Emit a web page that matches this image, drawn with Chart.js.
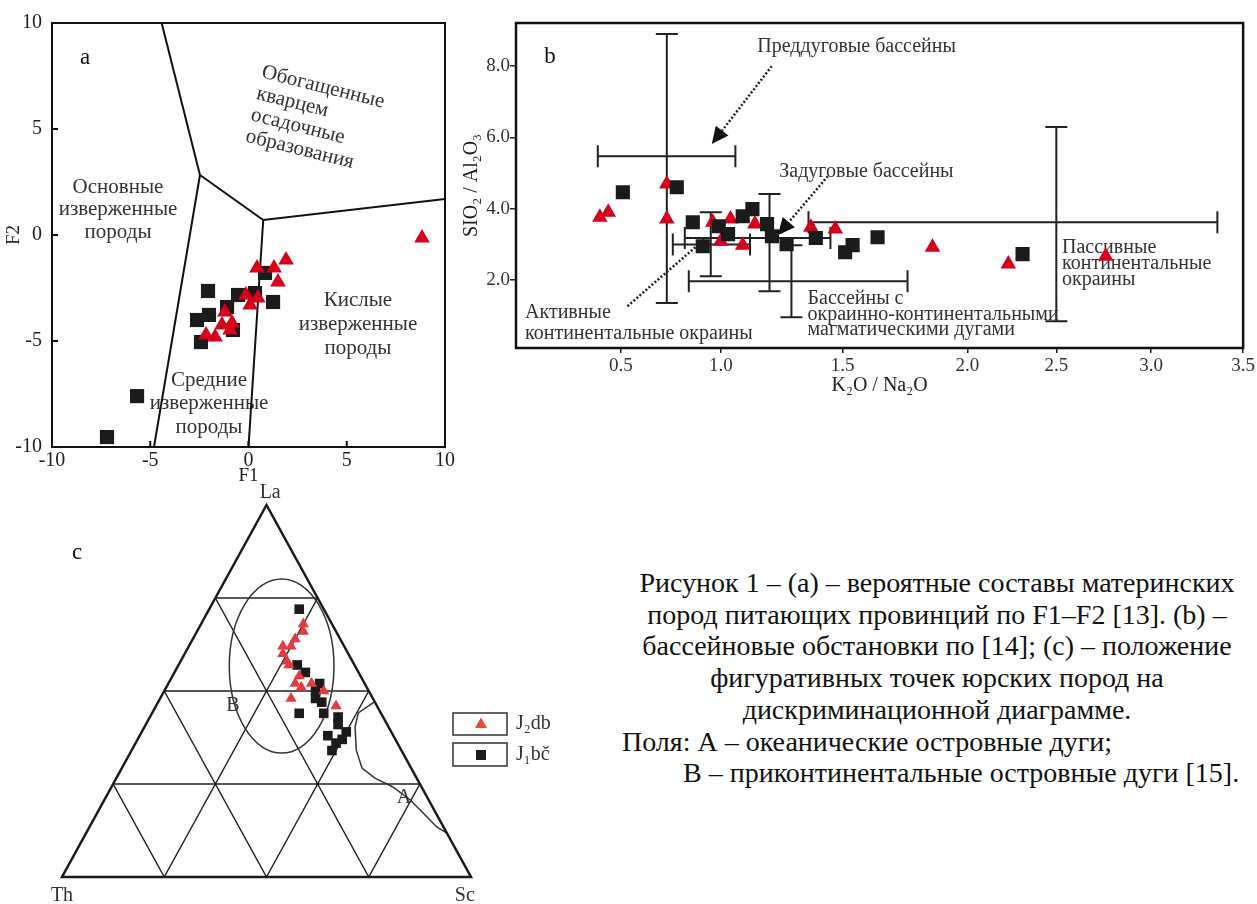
<!DOCTYPE html>
<html>
<head>
<meta charset="utf-8">
<script src="https://cdn.jsdelivr.net/npm/chart.js@4.4.1/dist/chart.umd.min.js"></script>
<style>
  html, body { margin: 0; padding: 0; background: #fff; }
  body { width: 1257px; height: 904px; position: relative; overflow: hidden;
         font-family: "Liberation Serif", "Times New Roman", serif; }
  canvas { position: absolute; }
  #caption { position: absolute; left: 620px; top: 567px; width: 634px;
             font-size: 28px; line-height: 31.7px; color: #111; white-space: nowrap; }
  #caption .c { text-align: center; }
  #caption .l { padding-left: 2px; }
  #caption .l2 { padding-left: 63px; }
</style>
</head>
<body>
<canvas id="chartA" width="460" height="490" style="left:0;top:0"></canvas>
<canvas id="chartB" width="797" height="400" style="left:460px;top:0"></canvas>
<canvas id="chartC" width="600" height="424" style="left:0;top:480px"></canvas>
<div id="caption">
  <div class="c">Рисунок 1 – (a) – вероятные составы материнских</div>
  <div class="c">пород питающих провинций по F1–F2 [13]. (b) –</div>
  <div class="c">бассейновые обстановки по [14]; (c) – положение</div>
  <div class="c">фигуративных точек юрских пород на</div>
  <div class="c">дискриминационной диаграмме.</div>
  <div class="l">Поля: А – океанические островные дуги;</div>
  <div class="l2">В – приконтинентальные островные дуги [15].</div>
</div>
<script>
// ---------- (a) F1–F2 discriminant functions ----------
const f1Bc = [-7.20, -5.67, -2.06, -2.62, -2.01, -2.42, -1.09, -0.53, -0.79, 0.84, 1.25, 0.33];
const f2Bc = [-9.53, -7.60, -2.64, -4.01, -3.77, -5.05, -3.40, -2.83, -4.48, -1.79, -3.16, -2.74];
const f1Db = [0.43, 1.30, 1.91, 1.50, -0.13, 0.48, 0.08, -1.20, -0.84, -1.35, -0.94, -2.16, -1.70, 8.83];
const f2Db = [-1.56, -1.56, -1.18, -2.22, -2.83, -2.97, -3.30, -3.63, -4.15, -4.25, -4.48, -4.72, -4.81, -0.14];
// field boundaries of the F1–F2 diagram
const boundaryF1 = [[-4.42, -2.47], [-2.47, 0.75, 10], [-2.47, -4.81], [0.75, 0.0]];
const boundaryF2 = [[10, 2.83], [2.83, 0.71, 1.70], [2.83, -10], [0.71, -10]];
const f1Ticks = [-10, -5, 0, 5, 10];
const f2Ticks = [-10, -5, 0, 5, 10];

// ---------- (b) SiO2/Al2O3 vs K2O/Na2O ----------
const k2oBc  = [0.51, 0.78, 0.86, 0.91, 0.99, 1.03, 1.09, 1.13, 1.19, 1.21, 1.27, 1.39, 1.51, 1.54, 1.64, 2.31];
const sio2Bc = [4.46, 4.60, 3.62, 2.95, 3.51, 3.29, 3.79, 3.99, 3.57, 3.23, 3.01, 3.18, 2.78, 2.98, 3.20, 2.73];
const k2oDb  = [0.40, 0.44, 0.73, 0.73, 0.96, 1.04, 1.00, 1.09, 1.14, 1.37, 1.47, 1.86, 2.23, 2.76];
const sio2Db = [3.76, 3.90, 4.69, 3.71, 3.62, 3.71, 3.09, 2.98, 3.57, 3.48, 3.43, 2.92, 2.45, 2.67];
// tectonic setting fields: mean and range (forearc, active margin, back-arc, continental arc, passive margin)
const fieldK2O     = [0.73, 0.95, 1.20, 1.29, 2.50];
const fieldK2OMin  = [0.39, 0.76, 0.82, 0.84, 1.36];
const fieldK2OMax  = [1.06, 1.12, 1.45, 1.76, 3.36];
const fieldSiO2    = [5.47, 3.00, 3.18, 1.97, 3.62];
const fieldSiO2Min = [1.36, 2.11, 1.69, 0.96, 0.85];
const fieldSiO2Max = [8.89, 3.90, 4.41, 2.98, 6.29];
const k2oTicks  = [0.5, 1.0, 1.5, 2.0, 2.5, 3.0, 3.5];
const sio2Ticks = [2, 4, 6, 8];

// ---------- (c) La–Th–Sc ternary ----------
const laBc = [0.72, 0.57, 0.55, 0.52, 0.50, 0.48, 0.47, 0.44, 0.44, 0.43, 0.41, 0.39, 0.38, 0.37, 0.36, 0.34];
const thBc = [0.06, 0.14, 0.13, 0.11, 0.13, 0.14, 0.13, 0.14, 0.20, 0.11, 0.12, 0.11, 0.16, 0.13, 0.15, 0.17];
const scBc = [0.22, 0.29, 0.32, 0.37, 0.37, 0.38, 0.40, 0.42, 0.36, 0.46, 0.47, 0.50, 0.46, 0.50, 0.49, 0.49];
const laDb = [0.68, 0.66, 0.64, 0.62, 0.62, 0.60, 0.58, 0.57, 0.54, 0.52, 0.51, 0.52, 0.50, 0.48, 0.46];
const thDb = [0.07, 0.08, 0.11, 0.13, 0.15, 0.16, 0.16, 0.16, 0.15, 0.17, 0.16, 0.13, 0.11, 0.20, 0.10];
const scDb = [0.25, 0.26, 0.25, 0.25, 0.23, 0.24, 0.26, 0.27, 0.31, 0.31, 0.33, 0.35, 0.39, 0.32, 0.44];
// field A (oceanic island arcs) boundary
const fieldALa = [0.470, 0.441, 0.403, 0.341, 0.293, 0.266, 0.242, 0.207, 0.172, 0.134, 0.118];
const fieldASc = [0.528, 0.504, 0.515, 0.549, 0.587, 0.632, 0.688, 0.748, 0.797, 0.850, 0.882];
// field B (continental island arcs) ellipse: centre (La, Sc) and half-axes
const fieldBCentre = [0.567, 0.2535];
const fieldBAxes = [0.128, 0.234];
const seriesNames = ['J\u2082db', 'J\u2081b\u010D'];

// ---------- common styling ----------
const SERIF = '"Liberation Serif", "Times New Roman", serif';
Chart.defaults.font.family = SERIF;
Chart.defaults.color = '#222';
Chart.defaults.animation = false;
Chart.defaults.responsive = false;
Chart.defaults.devicePixelRatio = 1;
Chart.defaults.events = [];
Chart.defaults.plugins.legend.display = false;
Chart.defaults.plugins.tooltip.enabled = false;

const RED = '#d6001c';
const RED_C = '#e6393f';
const INK = '#1b1b1b';

const pts = (xs, ys) => xs.map((x, i) => ({ x, y: ys[i] }));

function textBlock(ctx, lines, x, y, o) {
  ctx.save();
  ctx.translate(x, y);
  ctx.rotate(o.angle || 0);
  ctx.font = `${o.size}px ${SERIF}`;
  ctx.fillStyle = o.color || '#333';
  ctx.textAlign = o.align || 'center';
  ctx.textBaseline = 'middle';
  lines.forEach((l, i) => ctx.fillText(l, 0, i * (o.gap || 0)));
  ctx.restore();
}
function seg(ctx, x0, y0, x1, y1) { ctx.moveTo(x0, y0); ctx.lineTo(x1, y1); }

// piecewise-linear axis: the K2O/Na2O axis of diagram (b) is drawn with uneven spacing
const k2oAxisValues    = [0, 0.5, 1.0, 1.5, 2.0, 2.5, 3.0, 3.5];
const k2oAxisFractions = [0, 0.1442, 0.2816, 0.4492, 0.6209, 0.7431, 0.8736, 1];
class BentLinearScale extends Chart.LinearScale {
  static id = 'bentLinear';
  static defaults = Chart.LinearScale.defaults;
  getPixelForValue(value) {
    if (value === null || value === undefined || isNaN(value)) return NaN;
    const v = k2oAxisValues, f = k2oAxisFractions;
    let i = 1;
    while (i < v.length - 1 && value > v[i]) i++;
    const d = f[i - 1] + (value - v[i - 1]) / (v[i] - v[i - 1]) * (f[i] - f[i - 1]);
    return this.getPixelForDecimal(d);
  }
  getValueForPixel(pixel) {
    const d = this.getDecimalForPixel(pixel);
    const v = k2oAxisValues, f = k2oAxisFractions;
    let i = 1;
    while (i < f.length - 1 && d > f[i]) i++;
    return v[i - 1] + (d - f[i - 1]) / (f[i] - f[i - 1]) * (v[i] - v[i - 1]);
  }
}
Chart.register(BentLinearScale);

// ================= (a) =================
const decorA = {
  id: 'decorA',
  beforeDatasetsDraw(chart) {
    const { ctx, scales: { x, y } } = chart;
    const X = v => x.getPixelForValue(v), Y = v => y.getPixelForValue(v);
    textBlock(ctx, ['Основные', 'изверженные', 'породы'], X(-6.64), Y(2.26), { size: 21, gap: 22.5 });
    textBlock(ctx, ['Кислые', 'изверженные', 'породы'], X(5.57), Y(-3.07), { size: 21, gap: 24 });
    textBlock(ctx, ['Средние', 'изверженные', 'породы'], X(-2.01), Y(-6.84), { size: 21, gap: 23.5 });
    textBlock(ctx, ['Обогащенные', 'кварцем', 'осадочные', 'образования'], X(0.69), Y(7.69),
      { size: 21, gap: 22, align: 'left', angle: 14 * Math.PI / 180 });
    textBlock(ctx, ['a'], X(-8.32), Y(8.35), { size: 23, color: '#111' });
  },
  afterDraw(chart) {
    const { ctx, chartArea: a, scales: { x, y } } = chart;
    ctx.save();
    ctx.strokeStyle = '#111';
    ctx.lineWidth = 2;
    ctx.strokeRect(a.left, a.top, a.right - a.left, a.bottom - a.top);
    ctx.beginPath();
    x.ticks.forEach(t => { const p = x.getPixelForValue(t.value); seg(ctx, p, a.bottom, p, a.bottom - 6); });
    y.ticks.forEach(t => { const p = y.getPixelForValue(t.value); seg(ctx, a.left, p, a.left + 6, p); });
    ctx.stroke();
    ctx.restore();
  }
};

new Chart(document.getElementById('chartA'), {
  type: 'scatter',
  data: {
    datasets: [
      { label: seriesNames[0], data: pts(f1Db, f2Db), pointStyle: 'triangle', pointRadius: 9,
        backgroundColor: RED, borderWidth: 0 },
      { label: seriesNames[1], data: pts(f1Bc, f2Bc), pointStyle: 'rect', pointRadius: 10,
        backgroundColor: INK, borderWidth: 0 },
      ...boundaryF1.map((bx, i) => ({ data: pts(bx, boundaryF2[i]), showLine: true, pointRadius: 0,
        borderColor: '#111', borderWidth: 2, fill: false }))
    ]
  },
  options: {
    layout: { padding: { top: 23, right: 15, left: 0, bottom: 0 } },
    scales: {
      x: { type: 'linear', min: -10, max: 10,
           afterBuildTicks: s => { s.ticks = f1Ticks.map(v => ({ value: v })); },
           ticks: { padding: 2, font: { size: 20 }, color: '#222' },
           grid: { display: false, drawTicks: false }, border: { display: false },
           title: { display: true, text: 'F1', font: { size: 19 }, color: '#222', padding: { top: 0, bottom: 3 } },
           afterFit: s => { s.height = 43; } },
      y: { type: 'linear', min: -10, max: 10,
           afterBuildTicks: s => { s.ticks = f2Ticks.map(v => ({ value: v })); },
           ticks: { padding: 10, font: { size: 20 }, color: '#222' },
           grid: { display: false, drawTicks: false }, border: { display: false },
           title: { display: true, text: 'F2', font: { size: 19 }, color: '#222', padding: { top: 3, bottom: 0 } },
           afterFit: s => { s.width = 52; } }
    }
  },
  plugins: [decorA]
});

// ================= (b) =================
function arrowDotted(ctx, x0, y0, x1, y1, head) {
  const dx = x1 - x0, dy = y1 - y0, len = Math.hypot(dx, dy);
  const ux = dx / len, uy = dy / len;
  const bx = x1 - ux * (head ? 17 : 0), by = y1 - uy * (head ? 17 : 0);
  ctx.save();
  ctx.strokeStyle = '#222';
  ctx.lineWidth = 2.5;
  ctx.setLineDash([2, 2]);
  ctx.beginPath(); ctx.moveTo(x0, y0); ctx.lineTo(bx, by); ctx.stroke();
  ctx.setLineDash([]);
  if (head) {
    ctx.fillStyle = '#111';
    ctx.beginPath();
    ctx.moveTo(x1, y1);
    ctx.lineTo(bx - uy * 8, by + ux * 8);
    ctx.lineTo(bx + uy * 8, by - ux * 8);
    ctx.closePath(); ctx.fill();
  }
  ctx.restore();
}

const decorB = {
  id: 'decorB',
  beforeDatasetsDraw(chart) {
    const { ctx, scales: { x, y } } = chart;
    const X = v => x.getPixelForValue(v), Y = v => y.getPixelForValue(v);
    const cap = 11;
    ctx.save();
    ctx.strokeStyle = '#222';
    ctx.lineWidth = 2;
    ctx.beginPath();
    fieldK2O.forEach((k, i) => {
      const cx = X(k), cy = Y(fieldSiO2[i]);
      const x0 = X(fieldK2OMin[i]), x1 = X(fieldK2OMax[i]);
      const y0 = Y(fieldSiO2Min[i]), y1 = Y(fieldSiO2Max[i]);
      seg(ctx, x0, cy, x1, cy);
      seg(ctx, cx, y0, cx, y1);
      seg(ctx, x0, cy - cap, x0, cy + cap);
      seg(ctx, x1, cy - cap, x1, cy + cap);
      seg(ctx, cx - cap, y0, cx + cap, y0);
      seg(ctx, cx - cap, y1, cx + cap, y1);
    });
    ctx.stroke();
    ctx.restore();

    arrowDotted(ctx, X(1.209), Y(7.99), X(0.955), Y(5.81), true);
    arrowDotted(ctx, X(1.439), Y(4.91), X(1.234), Y(3.26), true);
    arrowDotted(ctx, X(0.533), Y(1.27), X(0.92), Y(3.15), false);

    const o = { size: 20, align: 'left', color: '#333' };
    textBlock(ctx, ['Преддуговые бассейны'], X(1.15), Y(8.53), o);
    textBlock(ctx, ['Задуговые бассейны'], X(1.24), Y(5.03), o);
    textBlock(ctx, ['Активные', 'континентальные окраины'], X(0.043), Y(1.10), { ...o, gap: 21 });
    textBlock(ctx, ['Бассейны с', 'окраинно-континентальными', 'магматическими дугами'], X(1.356), Y(1.47), { ...o, gap: 15.5 });
    textBlock(ctx, ['Пассивные', 'континентальные', 'окраины'], X(2.53), Y(2.90), { ...o, gap: 16 });
    textBlock(ctx, ['b'], X(0.162), Y(8.25), { size: 23, color: '#111' });
  },
  afterDraw(chart) {
    const { ctx, chartArea: a } = chart;
    ctx.save();
    ctx.strokeStyle = '#111';
    ctx.lineWidth = 2.5;
    ctx.strokeRect(a.left, a.top, a.right - a.left, a.bottom - a.top);
    ctx.restore();
  }
};

new Chart(document.getElementById('chartB'), {
  type: 'scatter',
  data: {
    datasets: [
      { label: seriesNames[1], data: pts(k2oBc, sio2Bc), pointStyle: 'rect', pointRadius: 10,
        backgroundColor: INK, borderWidth: 0 },
      { label: seriesNames[0], data: pts(k2oDb, sio2Db), pointStyle: 'triangle', pointRadius: 9,
        backgroundColor: RED, borderWidth: 0 }
    ]
  },
  options: {
    layout: { padding: { top: 23, right: 13, left: 0, bottom: 0 } },
    scales: {
      x: { type: 'bentLinear', min: 0, max: 3.5,
           afterBuildTicks: s => { s.ticks = k2oTicks.map(v => ({ value: v })); },
           ticks: { padding: 2, font: { size: 19 }, color: '#333', callback: v => v.toFixed(1) },
           grid: { display: true, drawOnChartArea: false, drawTicks: true, tickLength: 5, color: '#222', lineWidth: 1.5 },
           border: { display: false },
           title: { display: true, text: 'K\u2082O / Na\u2082O', font: { size: 20 }, color: '#222', padding: { top: 0, bottom: 2 } },
           afterFit: s => { s.height = 52; } },
      y: { type: 'linear', min: 0.1, max: 9.2,
           afterBuildTicks: s => { s.ticks = sio2Ticks.map(v => ({ value: v })); },
           ticks: { padding: 0, font: { size: 19 }, color: '#333', callback: v => v.toFixed(1) },
           grid: { display: true, drawOnChartArea: false, drawTicks: true, tickLength: 6, color: '#222', lineWidth: 1.5 },
           border: { display: false },
           title: { display: true, text: 'SIO\u2082 / Al\u2082O\u2083', font: { size: 20 }, color: '#222', padding: { top: 0, bottom: 0 } },
           afterFit: s => { s.width = 56; } }
    }
  },
  plugins: [decorB]
});

// ================= (c) =================
const tern = (la, th, sc) => { const s = la + th + sc; return { x: (sc + la / 2) / s, y: la / s }; };

const decorC = {
  id: 'decorC',
  beforeDatasetsDraw(chart) {
    const { ctx, scales: { x, y } } = chart;
    const P = (u, v) => [x.getPixelForValue(u), y.getPixelForValue(v)];
    const line = (a, b) => { const p = P(...a), q = P(...b); seg(ctx, p[0], p[1], q[0], q[1]); };
    ctx.save();
    ctx.strokeStyle = '#222';
    ctx.lineWidth = 1.5;
    ctx.beginPath();
    [0.25, 0.5, 0.75].forEach(k => {
      line([k / 2, k], [1 - k / 2, k]);          // constant La
      line([k, 0], [k + (1 - k) / 2, 1 - k]);    // constant Sc
      line([1 - k, 0], [(1 - k) / 2, 1 - k]);    // constant Th
    });
    ctx.stroke();

    // field B ellipse
    const [cx, cy] = P(fieldBCentre[1] + fieldBCentre[0] / 2, fieldBCentre[0]);
    const rx = x.getPixelForValue(fieldBAxes[0]) - x.getPixelForValue(0);
    const ry = y.getPixelForValue(0) - y.getPixelForValue(fieldBAxes[1]);
    ctx.strokeStyle = '#333';
    ctx.beginPath(); ctx.ellipse(cx, cy, rx, ry, 0, 0, Math.PI * 2); ctx.stroke();

    // field A boundary
    ctx.beginPath();
    fieldALa.forEach((la, i) => {
      const t = tern(la, 1 - la - fieldASc[i], fieldASc[i]);
      const [px, py] = P(t.x, t.y);
      i ? ctx.lineTo(px, py) : ctx.moveTo(px, py);
    });
    ctx.stroke();

    // outer triangle
    ctx.strokeStyle = '#1a1a1a';
    ctx.lineWidth = 2.5;
    ctx.beginPath();
    const a = P(0, 0), b = P(1, 0), c = P(0.5, 1);
    ctx.moveTo(...a); ctx.lineTo(...b); ctx.lineTo(...c); ctx.closePath(); ctx.stroke();
    ctx.restore();

    const o = { size: 20, color: '#333' };
    textBlock(ctx, ['La'], ...P(0.509, 1.032), o);
    textBlock(ctx, ['Th'], ...P(0.0, -0.051), o);
    textBlock(ctx, ['Sc'], ...P(0.985, -0.051), o);
    textBlock(ctx, ['B'], ...P(0.418, 0.46), o);
    textBlock(ctx, ['A'], ...P(0.836, 0.212), o);
    textBlock(ctx, ['c'], ...P(0.037, 0.871), { size: 23, color: '#111' });
  },
  afterDraw(chart) {
    const { ctx } = chart;
    ctx.save();
    ctx.strokeStyle = '#333';
    ctx.lineWidth = 1.5;
    ctx.strokeRect(453, 233, 54, 22);
    ctx.strokeRect(453, 263, 54, 23);
    ctx.fillStyle = '#e84a2c';
    ctx.beginPath(); ctx.moveTo(481, 237.5); ctx.lineTo(487, 248); ctx.lineTo(475, 248); ctx.closePath(); ctx.fill();
    ctx.fillStyle = INK;
    ctx.fillRect(476, 270, 10, 10);
    ctx.restore();
    textBlock(ctx, [seriesNames[0]], 516, 244, { size: 20, align: 'left', color: '#333' });
    textBlock(ctx, [seriesNames[1]], 516, 275, { size: 20, align: 'left', color: '#333' });
  }
};

new Chart(document.getElementById('chartC'), {
  type: 'scatter',
  data: {
    datasets: [
      { label: seriesNames[0], data: laDb.map((la, i) => tern(la, thDb[i], scDb[i])),
        pointStyle: 'triangle', pointRadius: 6.5, backgroundColor: RED_C, borderWidth: 0 },
      { label: seriesNames[1], data: laBc.map((la, i) => tern(la, thBc[i], scBc[i])),
        pointStyle: 'rect', pointRadius: 6.8, backgroundColor: INK, borderWidth: 0 }
    ]
  },
  options: {
    layout: { padding: { left: 62, top: 25, right: 129, bottom: 27 } },
    scales: {
      x: { type: 'linear', min: 0, max: 1, display: false },
      y: { type: 'linear', min: 0, max: 1, display: false }
    }
  },
  plugins: [decorC]
});
</script>
</body>
</html>
